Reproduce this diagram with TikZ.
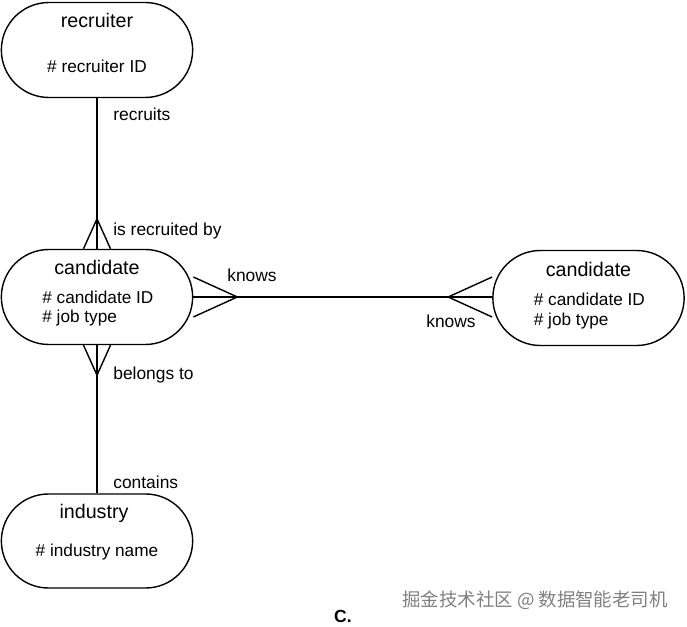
\documentclass[tikz,border=0pt]{standalone}
\usepackage{fontspec}
\setmainfont{Liberation Sans}
\newfontfamily\cjk{Noto Sans CJK SC}
\usepackage{xcolor}
\usepackage{tikz}
\usetikzlibrary{shapes.misc, arrows.meta, positioning, calc}
\tikzstyle{entity} = [rounded rectangle, rounded rectangle arc length=180, minimum width=4.06cm, minimum height=1.9cm, draw=black, thick, fill=white]
\tikzstyle{etitle} = [inner sep=0pt, font=\fontsize{11.2}{13}\selectfont]
\tikzstyle{attr} = [inner sep=0pt, anchor=west, font=\fontsize{9.8}{12}\selectfont]
\tikzstyle{rel} = [inner sep=0pt, font=\fontsize{9.9}{12}\selectfont]
\tikzstyle{link} = [thick, black]

\begin{document}
\begin{tikzpicture}
  \useasboundingbox (0,0) rectangle (13.74,-12.54);
  % entities
  \node[entity] (recr) at (1.94,-1.00) {};
  \node[entity] (cand) at (1.94,-5.94) {};
  \node[entity] (cand2) at (11.77,-5.96) {};
  \node[entity, minimum height=1.88cm] (ind) at (1.94,-10.82) {};
  % entity texts
  \node[etitle] (recrT) at ([yshift=0.60cm]recr.center) {recruiter};
  \node[attr, anchor=center] (recrA) at ([yshift=-0.32cm]recr.center) {\# recruiter ID};
  \node[etitle] (candT) at ([yshift=0.60cm]cand.center) {candidate};
  \node[attr] (candA) at ([xshift=-1.10cm]cand.center) {\# candidate ID};
  \node[attr] (candB) at ([xshift=-1.10cm, yshift=-0.42cm]cand.center) {\# job type};
  \node[etitle] (cand2T) at ([yshift=0.58cm]cand2.center) {candidate};
  \node[attr] (cand2A) at ([xshift=-1.10cm, yshift=-0.02cm]cand2.center) {\# candidate ID};
  \node[attr] (cand2B) at ([xshift=-1.10cm, yshift=-0.46cm]cand2.center) {\# job type};
  \node[etitle] (indT) at ([xshift=-0.06cm, yshift=0.56cm]ind.center) {industry};
  \node[attr, anchor=center] (indA) at ([yshift=-0.22cm]ind.center) {\# industry name};
  % relationships
  \coordinate (kend) at (cand.east -| cand2.west);
  \draw[link] (recr) -- (cand);
  \draw[link] (cand) -- (ind);
  \draw[link] (cand.east) -- (kend);
  % crow's feet
  \coordinate (ftop) at ([yshift=0.60cm]cand.north);
  \coordinate (fbot) at ([yshift=-0.60cm]cand.south);
  \coordinate (fleft) at ([xshift=0.88cm]cand.east);
  \coordinate (fright) at ([xshift=-0.88cm]kend);
  \draw[link] ([xshift=-0.27cm]cand.north) -- (ftop) -- ([xshift=0.27cm]cand.north);
  \draw[link] ([xshift=-0.27cm]cand.south) -- (fbot) -- ([xshift=0.27cm]cand.south);
  \draw[link] ([yshift=0.40cm]cand.east) -- (fleft) -- ([yshift=-0.40cm]cand.east);
  \draw[link] ([yshift=0.40cm]kend) -- (fright) -- ([yshift=-0.40cm]kend);
  % labels
  \node[rel, anchor=west] (lrecruits) at (2.26,-2.28) {recruits};
  \node[rel, anchor=west] (lrecby) at (2.26,-4.62) {is recruited by};
  \node[rel] (lknows) at (5.04,-5.50) {knows};
  \node[rel] (lknows2) at (9.02,-6.42) {knows};
  \node[rel, anchor=west] (lbelongs) at (2.26,-7.50) {belongs to};
  \node[rel, anchor=west] (lcontains) at (2.26,-9.64) {contains};
  % caption and mark
  \node[inner sep=0pt, text=black!50, font=\cjk\fontsize{10.5}{12}\selectfont] (mark) at (10.70,-12.00) {掘金技术社区 @ 数据智能老司机};
  \node[inner sep=0pt, font=\bfseries\fontsize{10}{12}\selectfont] (cap) at (6.86,-12.33) {C.};
\end{tikzpicture}
\end{document}
